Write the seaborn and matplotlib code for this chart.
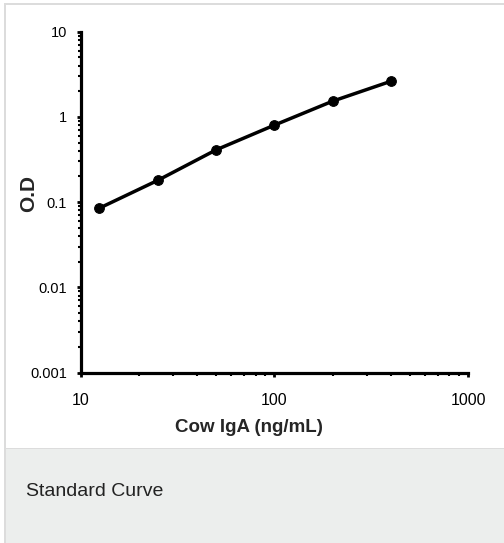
import numpy as np
import pandas as pd
import matplotlib
matplotlib.use("Agg")
import matplotlib.pyplot as plt
import matplotlib.ticker as mticker
from matplotlib.patches import Rectangle
import seaborn as sns

# standard curve points
conc = [12.5, 25, 50, 100, 200, 400]
od = [0.085, 0.18, 0.41, 0.80, 1.53, 2.62]
x_ticks = [10, 100, 1000]
y_ticks = [0.001, 0.01, 0.1, 1, 10]

df = pd.DataFrame({"conc": conc, "od": od})

sns.set_style("ticks")
plt.rcParams["font.family"] = ["Liberation Sans Narrow", "Liberation Sans", "DejaVu Sans"]

W, H = 504, 543
fig = plt.figure(figsize=(W / 100, H / 100), dpi=100)
fig.patch.set_facecolor("white")

# page frame: light border + grey caption band (pixel rows from the top)
band_top = 449
frame = [
    ((5 / W, 0), 1, (H - band_top) / H, "#eceeed"),
    ((5 / W, (H - band_top) / H), 1, 1.5 / H, "#dcdcdc"),
    ((4 / W, 0), 2 / W, (H - 3) / H, "#dcdcdc"),
    ((4 / W, (H - 5) / H), 1, 2 / H, "#dcdcdc"),
]
for xy, w, h, c in frame:
    fig.patches.append(Rectangle(xy, w, h, transform=fig.transFigure,
                                 facecolor=c, edgecolor="none", zorder=-10))

ax = fig.add_axes([80.7 / W, (H - 372.5) / H, (468 - 80.7) / W, (372.5 - 31.7) / H])
ax.set_zorder(5)
ax.patch.set_alpha(0)

sns.lineplot(data=df, x="conc", y="od", ax=ax, color="black", linewidth=2.5,
             marker="o", markersize=7, markeredgecolor="black", markerfacecolor="black")

ax.set_xscale("log")
ax.set_yscale("log")
ax.set_xlim(10, 1000)
ax.set_ylim(0.001, 10)

ax.xaxis.set_major_locator(mticker.FixedLocator(x_ticks))
ax.yaxis.set_major_locator(mticker.FixedLocator(y_ticks))
ax.xaxis.set_major_formatter(mticker.FuncFormatter(lambda v, p: f"{v:g}"))
ax.yaxis.set_major_formatter(mticker.FuncFormatter(lambda v, p: f"{v:g}"))
ax.xaxis.set_minor_locator(mticker.LogLocator(base=10, subs=np.arange(2, 10)))
ax.yaxis.set_minor_locator(mticker.LogLocator(base=10, subs=np.arange(2, 10)))
ax.xaxis.set_minor_formatter(mticker.NullFormatter())
ax.yaxis.set_minor_formatter(mticker.NullFormatter())

sns.despine(ax=ax)
for side in ["left", "bottom"]:
    ax.spines[side].set_linewidth(2.3)
    ax.spines[side].set_color("black")

ax.tick_params(axis="x", which="major", length=3, width=2, pad=12, labelsize=11.5, colors="black")
ax.tick_params(axis="y", which="major", length=3, width=2, pad=7, labelsize=10.5, colors="black")
ax.tick_params(which="minor", length=2, width=1.5, color="black")

ax.set_xlabel("Cow IgA (ng/mL)", fontsize=13.5, fontweight="bold", va="center")
ax.xaxis.set_label_coords((249 - 80.7) / (468 - 80.7), (372.5 - 427) / (372.5 - 31.7))
ax.set_ylabel("O.D", fontsize=15, fontweight="bold", family=["Liberation Sans", "DejaVu Sans"],
              va="center")
ax.yaxis.set_label_coords((28.5 - 80.7) / (468 - 80.7), (372.5 - 194) / (372.5 - 31.7))

fig.text(26 / W, (H - 492) / H, "Standard Curve", fontsize=14, color="#222222",
         family=["Liberation Sans", "DejaVu Sans"], ha="left", va="center")

fig.savefig("out.png", dpi=100)
